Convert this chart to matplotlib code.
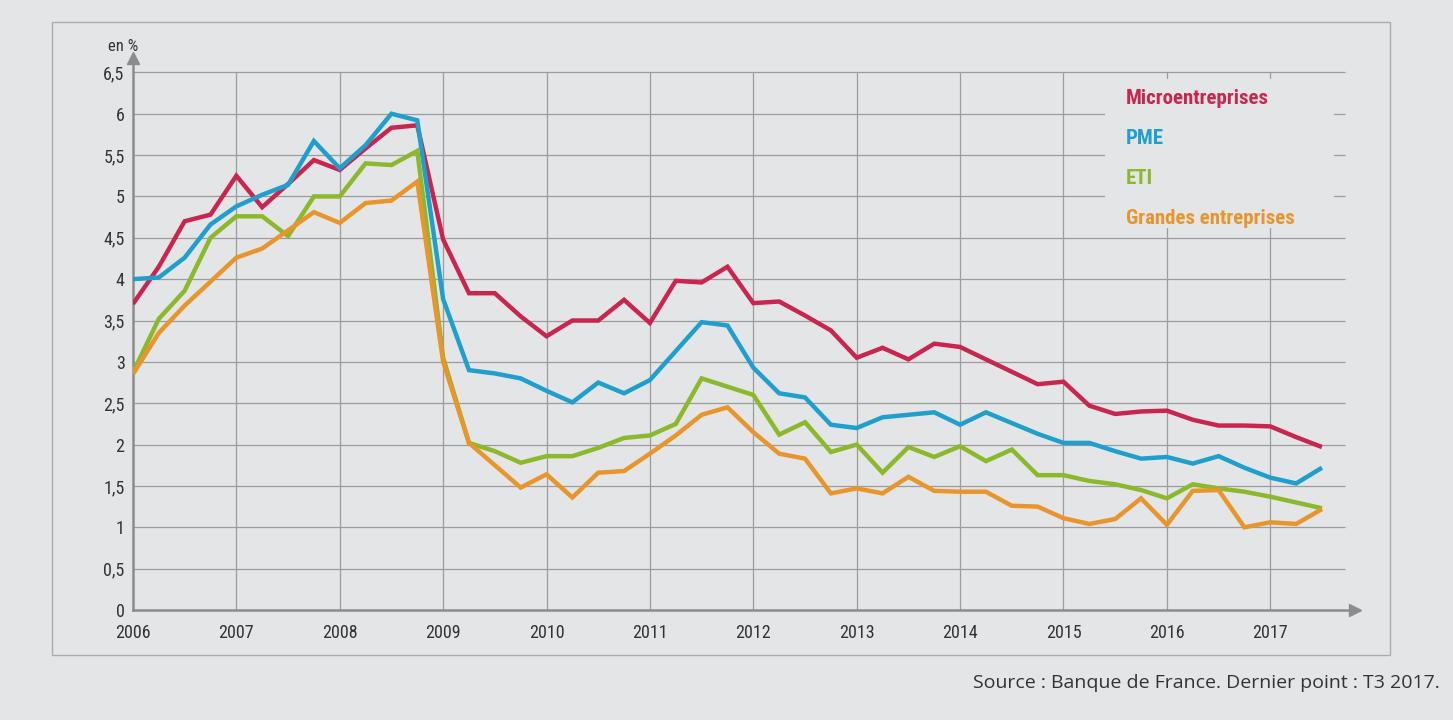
import matplotlib
matplotlib.use("Agg")
import matplotlib.pyplot as plt
from matplotlib import font_manager as fm
from matplotlib.patches import Rectangle
import numpy as np

# ---------------- data (quarterly, T1 2006 -> T3 2017) ----------------
start_year = 2006
n_points = 47
quarters = [start_year + i / 4 for i in range(n_points)]

micro = [3.70, 4.15, 4.70, 4.78,
         5.25, 4.87, 5.15, 5.44,
         5.32, 5.58, 5.83, 5.86,
         4.48, 3.83, 3.83, 3.55,
         3.31, 3.50, 3.50, 3.75,
         3.47, 3.98, 3.96, 4.15,
         3.71, 3.73, 3.56, 3.38,
         3.05, 3.17, 3.03, 3.22,
         3.18, 3.03, 2.88, 2.73,
         2.76, 2.47, 2.37, 2.40,
         2.41, 2.30, 2.23, 2.23,
         2.22, 2.09, 1.97]

pme = [4.00, 4.02, 4.26, 4.66,
       4.88, 5.02, 5.14, 5.67,
       5.34, 5.62, 6.00, 5.92,
       3.76, 2.90, 2.86, 2.80,
       2.65, 2.51, 2.75, 2.62,
       2.78, 3.13, 3.48, 3.44,
       2.93, 2.62, 2.57, 2.24,
       2.20, 2.33, 2.36, 2.39,
       2.24, 2.39, 2.26, 2.13,
       2.02, 2.02, 1.92, 1.83,
       1.85, 1.77, 1.86, 1.72,
       1.60, 1.53, 1.72]

eti = [2.87, 3.52, 3.86, 4.50,
       4.76, 4.76, 4.52, 5.00,
       5.00, 5.40, 5.38, 5.55,
       3.05, 2.02, 1.92, 1.78,
       1.86, 1.86, 1.96, 2.08,
       2.11, 2.25, 2.80, 2.70,
       2.60, 2.12, 2.27, 1.91,
       2.00, 1.66, 1.97, 1.85,
       1.98, 1.80, 1.94, 1.63,
       1.63, 1.56, 1.52, 1.45,
       1.35, 1.52, 1.47, 1.43,
       1.37, 1.30, 1.23]

grandes = [2.85, 3.35, 3.68, 3.97,
           4.26, 4.37, 4.59, 4.81,
           4.68, 4.92, 4.95, 5.18,
           3.00, 2.02, 1.75, 1.48,
           1.64, 1.36, 1.66, 1.68,
           1.89, 2.11, 2.36, 2.45,
           2.15, 1.89, 1.83, 1.41,
           1.47, 1.41, 1.61, 1.44,
           1.43, 1.43, 1.26, 1.25,
           1.11, 1.04, 1.10, 1.35,
           1.03, 1.44, 1.45, 1.00,
           1.06, 1.04, 1.22]

series_names = ["Microentreprises", "PME", "ETI", "Grandes entreprises"]
series_values = [micro, pme, eti, grandes]
series_colors = ["#c8264e", "#1f9fcc", "#8cb82c", "#e8952c"]

year_ticks = list(range(2006, 2018))
year_labels = [str(y) for y in year_ticks]
y_ticks = [0, 0.5, 1, 1.5, 2, 2.5, 3, 3.5, 4, 4.5, 5, 5.5, 6, 6.5]
y_labels = ["0", "0,5", "1", "1,5", "2", "2,5", "3", "3,5", "4", "4,5", "5", "5,5", "6", "6,5"]

# ---------------- fonts ----------------
names = {f.name for f in fm.fontManager.ttflist}
cond = next((n for n in ["Liberation Sans Narrow", "Roboto Condensed",
                         "Open Sans Condensed", "Open Sans", "DejaVu Sans"] if n in names),
            "DejaVu Sans")
regular = next((n for n in ["Open Sans", "Noto Sans", "DejaVu Sans"] if n in names), "DejaVu Sans")

BG = "#e4e5e7"
GRID = "#9c9c9c"
AXC = "#8c8c8c"
TXT = "#333333"

fig = plt.figure(figsize=(14.53, 7.2), dpi=100, facecolor=BG)
ax = fig.add_axes([0.0915, 0.1528, 0.8411, 0.7662])
ax.set_facecolor(BG)

xmax = 2017.82
ymax = 6.67
ax.set_xlim(2006, xmax)
ax.set_ylim(0, ymax)

# grid
ax.hlines(y_ticks[1:], 2006, 2017.72, color=GRID, lw=0.9, zorder=1)
ax.vlines(year_ticks[1:], 0, 6.5, color=GRID, lw=0.9, zorder=1)

# box masking grid behind legend
ax.add_patch(Rectangle((2015.40, 4.62), 2017.62 - 2015.40, 6.42 - 4.62,
                       facecolor=BG, edgecolor="none", zorder=2))

# lines
lines = []
for name, vals, col in zip(series_names, series_values, series_colors):
    ln, = ax.plot(quarters, vals, color=col, lw=3.2, solid_joinstyle="miter",
                  solid_capstyle="butt", label=name, zorder=4)
    lines.append(ln)

# axes styling
for s in ["top", "right"]:
    ax.spines[s].set_visible(False)
for s in ["left", "bottom"]:
    ax.spines[s].set_color(AXC)
    ax.spines[s].set_linewidth(1.8)
ax.plot([0], [1], marker="^", ms=9, color=AXC, transform=ax.transAxes, clip_on=False, zorder=5)
ax.plot([1], [0], marker=">", ms=9, color=AXC, transform=ax.transAxes, clip_on=False, zorder=5)

ax.set_xticks(year_ticks)
ax.set_xticklabels(year_labels, fontsize=13, color=TXT, fontfamily=cond)
ax.set_yticks(y_ticks)
ax.set_yticklabels(y_labels, fontsize=13, color=TXT, fontfamily=cond)
ax.tick_params(axis="x", length=0, pad=10)
ax.tick_params(axis="y", length=0, pad=6)

ax.text(-0.008, 1.008, "en %", transform=ax.transAxes, ha="center", va="bottom",
        fontsize=12, color=TXT, fontfamily=cond, clip_on=False)

leg = ax.legend(handles=lines, loc="upper left", bbox_to_anchor=(0.797, 0.978),
                frameon=False, handlelength=0, handletextpad=0, labelspacing=1.0,
                prop={"family": cond, "weight": "bold", "size": 15})
for txt, col in zip(leg.get_texts(), series_colors):
    txt.set_color(col)
for h in leg.legend_handles:
    h.set_visible(False)

# outer frame
fig.add_artist(Rectangle((0.0358, 0.0903), 0.9566 - 0.0358, 0.9694 - 0.0903,
                         transform=fig.transFigure, facecolor="none",
                         edgecolor="#acacac", lw=1.0))

fig.text(0.991, 0.051, "Source : Banque de France. Dernier point : T3 2017.",
         ha="right", va="center", fontsize=14, color=TXT, fontfamily=regular)

fig.savefig("out.png", dpi=100, facecolor=BG)
